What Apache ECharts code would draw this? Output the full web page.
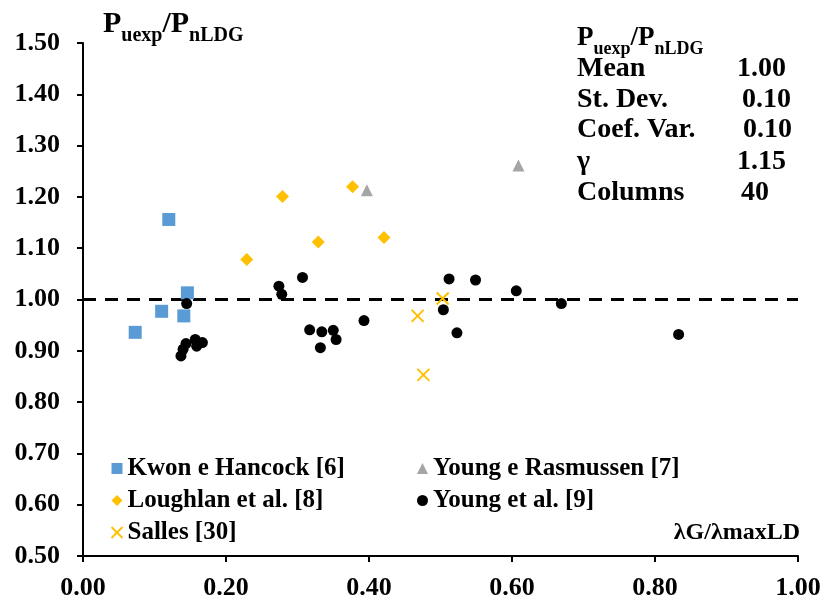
<!DOCTYPE html>
<html>
<head>
<meta charset="utf-8">
<script src="https://cdn.jsdelivr.net/npm/echarts@6/dist/echarts.min.js"></script>
<style>
  html, body { margin: 0; padding: 0; background: #fff; }
  #chart { width: 824px; height: 601px; }
</style>
</head>
<body>
<div id="chart"></div>
<script>
// Ratio of experimental to predicted capacity vs. slenderness ratio, by source
const kwonHancock = [[0.073, 0.936], [0.110, 0.977], [0.120, 1.156], [0.141, 0.968], [0.146, 1.013]];
const youngRasmussen = [[0.397, 1.213], [0.609, 1.261]];
const loughlan = [[0.229, 1.078], [0.279, 1.201], [0.329, 1.112], [0.377, 1.220], [0.421, 1.121]];
const youngEtAl = [
  [0.145, 0.992], [0.137, 0.890], [0.140, 0.903], [0.144, 0.914], [0.157, 0.922],
  [0.159, 0.909], [0.167, 0.916], [0.274, 1.026], [0.278, 1.010], [0.307, 1.043],
  [0.317, 0.941], [0.334, 0.937], [0.350, 0.940], [0.354, 0.922], [0.332, 0.906],
  [0.393, 0.959], [0.512, 1.040], [0.549, 1.038], [0.606, 1.017], [0.669, 0.992],
  [0.504, 0.980], [0.523, 0.935], [0.833, 0.932]
];
const salles = [[0.468, 0.968], [0.503, 1.002], [0.476, 0.853]];
const referenceLine = [[0, 1.0], [1.0, 1.0]];

const statLabels = ['Mean', 'St. Dev.', 'Coef. Var.', 'γ', 'Columns'];
const statValues = ['1.00', '0.10', '0.10', '1.15', '40'];

const serif = '"Liberation Serif", "Times New Roman", serif';
const crossPath = 'path://M0,0L2,2M2,0L0,2';

const chart = echarts.init(document.getElementById('chart'));

// summary statistics block, upper right
const statValueX = [737, 742, 743, 737, 741];
const statRowY = [55, 86, 116, 148, 179];
const statGraphics = [];
statLabels.forEach((label, i) => {
  statGraphics.push({
    type: 'text', left: 577, top: statRowY[i],
    style: { text: label, font: 'bold 28px ' + serif, fill: '#000' }
  });
  statGraphics.push({
    type: 'text', left: statValueX[i], top: statRowY[i],
    style: { text: statValues[i], font: 'bold 28px ' + serif, fill: '#000' }
  });
});

const legendText = { fontFamily: serif, fontWeight: 'bold', fontSize: 25, color: '#000' };
const axisLabelStyle = { fontFamily: serif, fontWeight: 'bold', fontSize: 26, color: '#000' };

chart.setOption({
  animation: false,
  backgroundColor: '#fff',
  grid: { left: 83, right: 26, top: 43, bottom: 44 },
  xAxis: {
    type: 'value', min: 0, max: 1, interval: 0.2,
    axisLine: { onZero: false, lineStyle: { color: '#000', width: 2 } },
    axisTick: { show: true, length: 6, lineStyle: { color: '#000', width: 2 } },
    splitLine: { show: false },
    axisLabel: Object.assign({ margin: 19, formatter: v => v.toFixed(2) }, axisLabelStyle)
  },
  yAxis: {
    type: 'value', min: 0.5, max: 1.5, interval: 0.1,
    axisLine: { show: true, onZero: false, lineStyle: { color: '#000', width: 2 } },
    axisTick: { show: true, length: 6, lineStyle: { color: '#000', width: 2 } },
    splitLine: { show: false },
    axisLabel: Object.assign({ margin: 23, formatter: v => v.toFixed(2) }, axisLabelStyle)
  },
  legend: [
    {
      left: 104, top: 451, orient: 'vertical', itemGap: 7,
      itemWidth: 11, itemHeight: 11, textStyle: legendText,
      data: [
        { name: 'Kwon e Hancock [6]' },
        { name: 'Loughlan et al. [8]' },
        { name: 'Salles [30]', icon: crossPath, itemStyle: { color: 'none', borderColor: '#FFC000', borderWidth: 2 } }
      ]
    },
    {
      left: 412, top: 451, orient: 'vertical', itemGap: 7,
      itemWidth: 11, itemHeight: 11, textStyle: legendText,
      data: [
        { name: 'Young e Rasmussen [7]' },
        { name: 'Young et al. [9]' }
      ]
    }
  ],
  graphic: [
    {
      type: 'text', left: 103, top: 9,
      style: {
        text: '{p|P}{s|uexp}{p|/P}{s|nLDG}',
        rich: {
          p: { font: 'bold 30px ' + serif, fill: '#000', verticalAlign: 'bottom' },
          s: { font: 'bold 20px ' + serif, fill: '#000', padding: [0, 0, -7, 0], verticalAlign: 'bottom' }
        }
      }
    },
    {
      type: 'text', left: 577, top: 25,
      style: {
        text: '{p|P}{s|uexp}{p|/P}{s|nLDG}',
        rich: {
          p: { font: 'bold 27px ' + serif, fill: '#000', verticalAlign: 'bottom' },
          s: { font: 'bold 18px ' + serif, fill: '#000', padding: [0, 0, -6, 0], verticalAlign: 'bottom' }
        }
      }
    },
    {
      type: 'text', right: 24, top: 521,
      style: { text: 'λG/λmaxLD', font: 'bold 24px ' + serif, fill: '#000' }
    }
  ].concat(statGraphics),
  series: [
    {
      name: 'reference', type: 'line', data: referenceLine, symbol: 'none',
      lineStyle: { color: '#000', width: 3, type: [13, 9] }, silent: true, z: 1
    },
    {
      name: 'Kwon e Hancock [6]', type: 'scatter', data: kwonHancock,
      symbol: 'rect', symbolSize: 13, itemStyle: { color: '#5B9BD5', opacity: 1 }, z: 3
    },
    {
      name: 'Young e Rasmussen [7]', type: 'scatter', data: youngRasmussen,
      symbol: 'triangle', symbolSize: 12, itemStyle: { color: '#A5A5A5', opacity: 1 }, z: 3
    },
    {
      name: 'Loughlan et al. [8]', type: 'scatter', data: loughlan,
      symbol: 'diamond', symbolSize: 13, itemStyle: { color: '#FFC000', opacity: 1 }, z: 3
    },
    {
      name: 'Young et al. [9]', type: 'scatter', data: youngEtAl,
      symbol: 'circle', symbolSize: 11, itemStyle: { color: '#000', opacity: 1 }, z: 4
    },
    {
      name: 'Salles [30]', type: 'scatter', data: salles,
      symbol: crossPath, symbolSize: 12,
      itemStyle: { color: 'none', borderColor: '#FFC000', borderWidth: 2, opacity: 1 }, z: 5
    }
  ]
});
</script>
</body>
</html>
